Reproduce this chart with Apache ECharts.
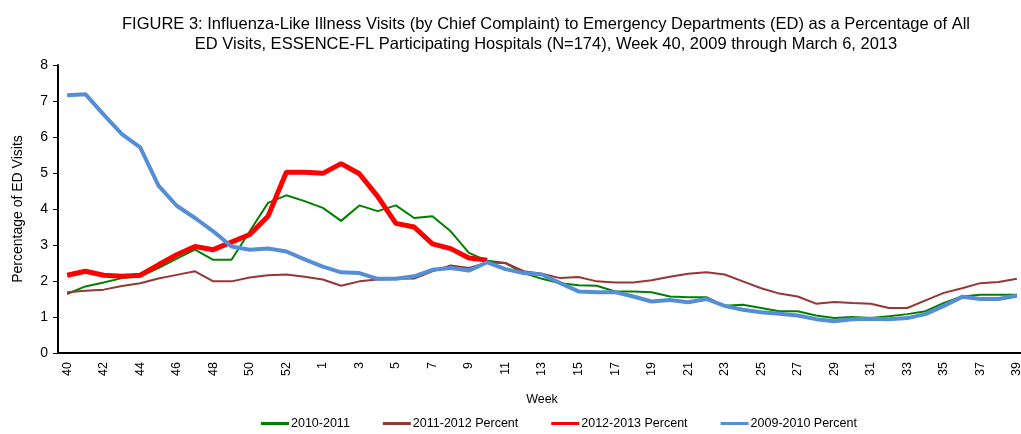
<!DOCTYPE html>
<html>
<head>
<meta charset="utf-8">
<script src="https://cdn.jsdelivr.net/npm/echarts@6/dist/echarts.min.js"></script>
<style>
html, body { margin: 0; padding: 0; background: #fff; overflow: hidden; }
/* plot runs slightly past the right edge, as in the original image */
#chart { width: 1026px; height: 434px; }
</style>
</head>
<body>
<div id="chart"></div>
<script>
// weeks 40..53 then 1..39
var weeks = ['40','41','42','43','44','45','46','47','48','49','50','51','52','53',
  '1','2','3','4','5','6','7','8','9','10','11','12','13','14','15','16','17','18','19','20',
  '21','22','23','24','25','26','27','28','29','30','31','32','33','34','35','36','37','38','39'];

var s2010_2011 = [1.64, 1.85, 1.96, 2.08, 2.13, 2.36, 2.62, 2.87, 2.59, 2.59,
  3.38, 4.17, 4.38, 4.22, 4.03, 3.67, 4.10, 3.94, 4.10, 3.75,
  3.80, 3.38, 2.78, 2.56, 2.50, 2.22, 2.06, 1.94, 1.88, 1.87,
  1.71, 1.71, 1.69, 1.57, 1.55, 1.55, 1.31, 1.34, 1.25, 1.16,
  1.16, 1.04, 0.97, 1.00, 0.97, 1.02, 1.08, 1.16, 1.39, 1.57,
  1.62, 1.62, 1.62];

var s2011_2012 = [1.69, 1.73, 1.76, 1.86, 1.94, 2.07, 2.17, 2.27, 1.99, 1.99,
  2.10, 2.16, 2.18, 2.12, 2.04, 1.87, 1.99, 2.04, 2.06, 2.07,
  2.27, 2.43, 2.36, 2.51, 2.50, 2.27, 2.20, 2.08, 2.11, 1.99,
  1.96, 1.96, 2.02, 2.12, 2.20, 2.24, 2.18, 1.99, 1.80, 1.65,
  1.57, 1.37, 1.42, 1.39, 1.37, 1.25, 1.25, 1.46, 1.67, 1.80,
  1.94, 1.97, 2.06];

var s2012_2013 = [2.16, 2.27, 2.16, 2.13, 2.16, 2.45, 2.73, 2.96, 2.87, 3.08,
  3.29, 3.80, 5.02, 5.02, 4.99, 5.26, 4.98, 4.35, 3.60, 3.50,
  3.03, 2.90, 2.64, 2.58];

var s2009_2010 = [7.16, 7.19, 6.62, 6.08, 5.71, 4.65, 4.09, 3.75, 3.38, 2.96,
  2.87, 2.90, 2.82, 2.60, 2.40, 2.24, 2.22, 2.06, 2.06, 2.13,
  2.31, 2.36, 2.29, 2.52, 2.33, 2.22, 2.18, 1.94, 1.71, 1.69,
  1.69, 1.57, 1.43, 1.47, 1.41, 1.50, 1.31, 1.20, 1.13, 1.09,
  1.04, 0.94, 0.88, 0.94, 0.95, 0.94, 0.97, 1.08, 1.31, 1.56,
  1.50, 1.50, 1.59];

var titleLines = ['FIGURE 3: Influenza-Like Illness Visits (by Chief Complaint) to Emergency Departments (ED) as a Percentage of All',
  'ED Visits, ESSENCE-FL Participating Hospitals (N=174), Week 40, 2009 through March 6, 2013'];

var chart = echarts.init(document.getElementById('chart'));
var font = 'Liberation Sans, Arial, sans-serif';

function line(name, data, color, width) {
  return {
    name: name,
    type: 'line',
    data: data,
    symbol: 'none',
    lineStyle: { color: color, width: width },
    itemStyle: { color: color },
    animation: false
  };
}

var option = {
  backgroundColor: '#fff',
  textStyle: { fontFamily: font },
  title: {
    text: titleLines.join('\n'),
    left: 541,
    textAlign: 'center',
    top: 9,
    textStyle: { fontSize: 16.5, fontWeight: 'normal', color: '#000', lineHeight: 20, fontFamily: font }
  },
  legend: {
    top: 412,
    left: 256,
    icon: 'rect',
    itemWidth: 28,
    itemHeight: 3,
    itemGap: 33,
    textStyle: { fontSize: 12.5, color: '#000', fontFamily: font, padding: [0, 0, 0, -3] },
    data: ['2010-2011', '2011-2012 Percent', '2012-2013 Percent', '2009-2010 Percent']
  },
  grid: { left: 58, right: 0, top: 65, bottom: 81 },
  xAxis: {
    type: 'category',
    data: weeks,
    boundaryGap: true,
    name: 'Week',
    nameLocation: 'middle',
    nameGap: 40,
    nameTextStyle: { fontSize: 12.5, color: '#000' },
    axisLine: { lineStyle: { color: '#000', width: 2 } },
    axisTick: { interval: 0, length: 4, lineStyle: { color: '#000' } },
    axisLabel: { interval: 1, rotate: 90, fontSize: 12.5, color: '#000', margin: 9 }
  },
  yAxis: {
    type: 'value',
    min: 0,
    max: 8,
    interval: 1,
    name: 'Percentage of ED Visits',
    nameLocation: 'middle',
    nameGap: 33,
    nameTextStyle: { fontSize: 14, color: '#000' },
    axisLine: { show: true, lineStyle: { color: '#000', width: 2 } },
    axisTick: { show: true, length: 5, lineStyle: { color: '#000' } },
    axisLabel: { fontSize: 14, color: '#000', margin: 10 },
    splitLine: { show: false }
  },
  series: [
    line('2010-2011', s2010_2011, '#008000', 2),
    line('2011-2012 Percent', s2011_2012, '#953735', 2),
    line('2012-2013 Percent', s2012_2013, '#ff0000', 5),
    line('2009-2010 Percent', s2009_2010, '#558ed5', 4)
  ]
};
chart.setOption(option);
</script>
</body>
</html>
